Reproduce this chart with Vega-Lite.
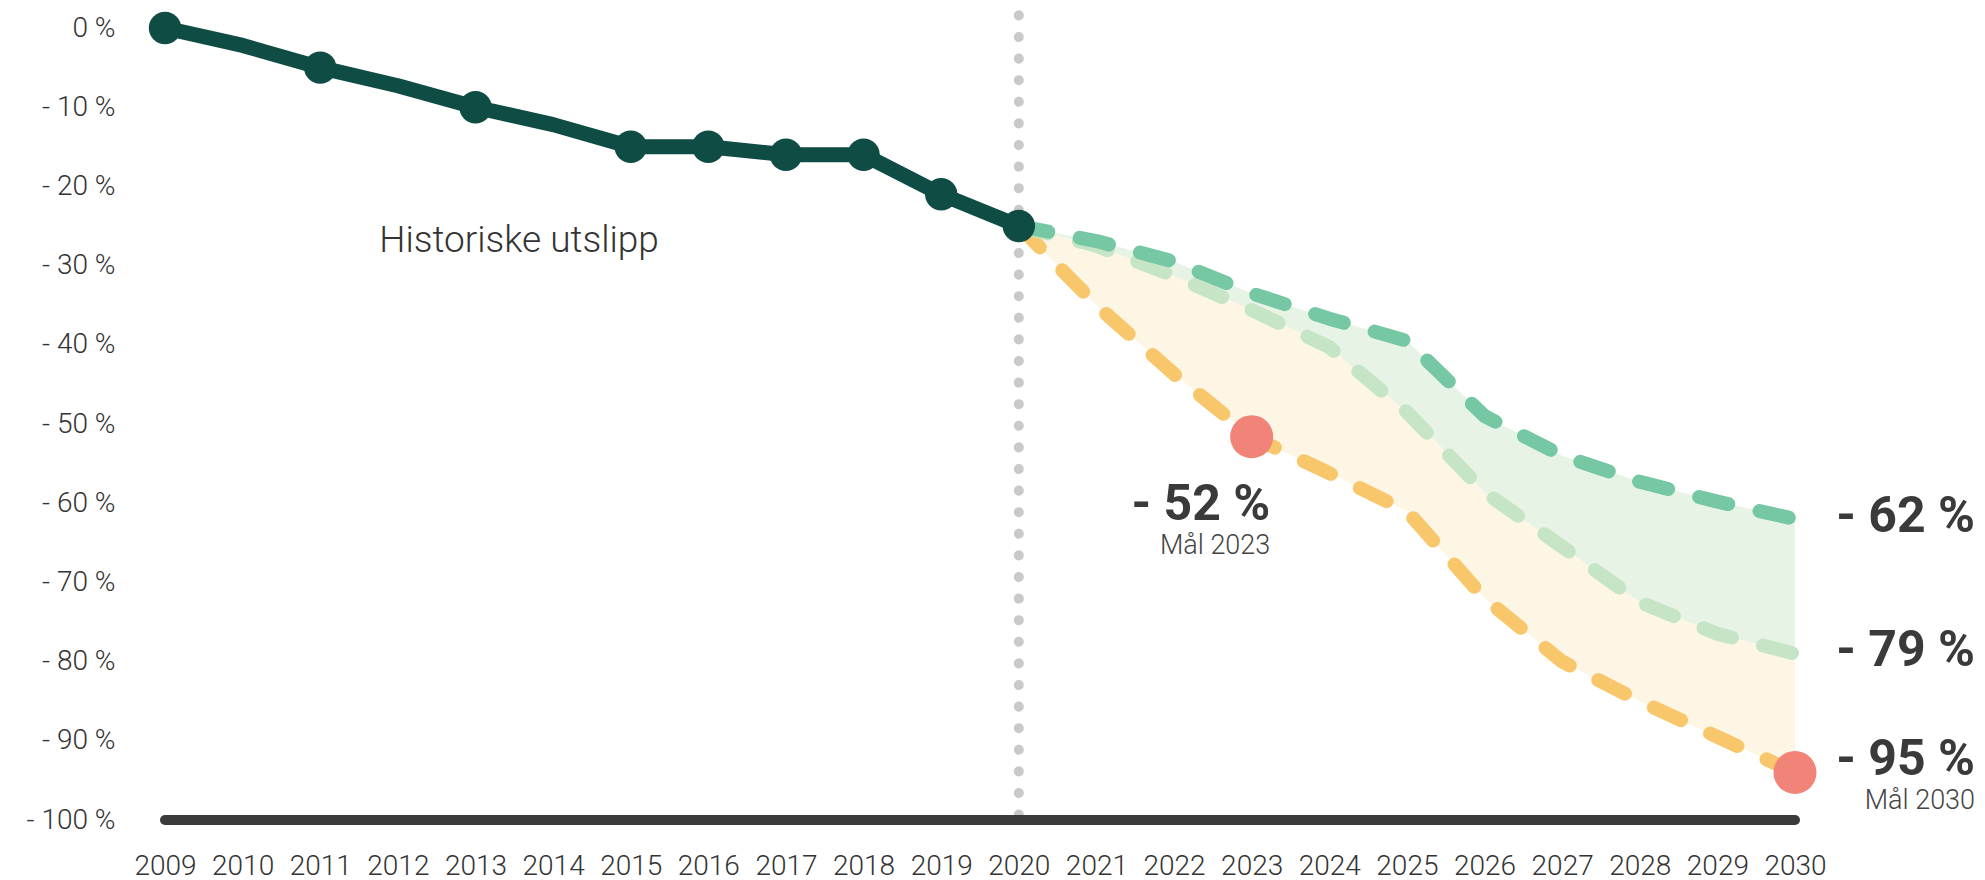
{
  "$schema": "https://vega.github.io/schema/vega-lite/v6.json",
  "width": 1630,
  "height": 792,
  "autosize": {"type": "none"},
  "padding": {"left": 165, "top": 28, "right": 190, "bottom": 60},
  "background": "white",
  "config": {
    "view": {"stroke": null},
    "font": "Roboto",
    "axis": {"grid": false, "domain": false, "ticks": false, "tickSize": 0}
  },
  "datasets": {
    "hist": [
      {"year": 2009, "value": 0},
      {"year": 2010, "value": -2.2},
      {"year": 2011, "value": -5},
      {"year": 2012, "value": -7.3},
      {"year": 2013, "value": -10},
      {"year": 2014, "value": -12.2},
      {"year": 2015, "value": -15},
      {"year": 2016, "value": -15},
      {"year": 2017, "value": -16},
      {"year": 2018, "value": -16},
      {"year": 2019, "value": -21},
      {"year": 2020, "value": -25}
    ],
    "histDots": [
      {"year": 2009, "value": 0},
      {"year": 2011, "value": -5},
      {"year": 2013, "value": -10},
      {"year": 2015, "value": -15},
      {"year": 2016, "value": -15},
      {"year": 2017, "value": -16},
      {"year": 2018, "value": -16},
      {"year": 2019, "value": -21},
      {"year": 2020, "value": -25}
    ],
    "proj": [
      {"year": 2020, "high": -25, "mid": -25, "low": -25},
      {"year": 2021, "high": -26.9, "mid": -27.5, "low": -35},
      {"year": 2022, "high": -29.5, "mid": -31.3, "low": -43.7},
      {"year": 2023, "high": -33.5, "mid": -35.6, "low": -51.6},
      {"year": 2024, "high": -36.7, "mid": -40.3, "low": -56.2},
      {"year": 2025, "high": -39.5, "mid": -48.5, "low": -61},
      {"year": 2026, "high": -49, "mid": -58.6, "low": -72},
      {"year": 2027, "high": -54, "mid": -65.5, "low": -80},
      {"year": 2028, "high": -57.3, "mid": -72.5, "low": -85},
      {"year": 2029, "high": -59.8, "mid": -76.5, "low": -89.5},
      {"year": 2030, "high": -62, "mid": -79, "low": -94}
    ],
    "targets": [
      {"year": 2023, "value": -51.6},
      {"year": 2030, "value": -94}
    ],
    "divider": [{"year": 2020, "top": 1.6, "bottom": -100}],
    "baseline": [{"start": 2009, "end": 2030, "value": -100}],
    "histLabel": [{"label": "Historiske utslipp", "year": 2011.76, "value": -28.25}],
    "bigLabels": [
      {"label": "- 52 %", "year": 2023.24, "value": -62.1},
      {"label": "- 62 %", "year": 2032.32, "value": -63.6},
      {"label": "- 79 %", "year": 2032.32, "value": -80.6},
      {"label": "- 95 %", "year": 2032.32, "value": -94.3}
    ],
    "smallLabels": [
      {"label": "Mål 2023", "year": 2023.24, "value": -66.4},
      {"label": "Mål 2030", "year": 2032.32, "value": -98.6}
    ]
  },
  "encoding": {
    "x": {
      "field": "year",
      "type": "quantitative",
      "title": null,
      "scale": {"domain": [2009, 2030], "nice": false, "zero": false},
      "axis": {
        "values": [2009, 2010, 2011, 2012, 2013, 2014, 2015, 2016, 2017, 2018, 2019, 2020, 2021, 2022, 2023, 2024, 2025, 2026, 2027, 2028, 2029, 2030],
        "format": "d",
        "labelFontSize": 28,
        "labelFontWeight": 300,
        "labelColor": "#333333",
        "labelPadding": 54,
        "labelBaseline": "alphabetic",
        "labelFlush": false,
        "labelOverlap": false,
        "title": null
      }
    },
    "y": {
      "field": "value",
      "type": "quantitative",
      "title": null,
      "scale": {"domain": [-100, 0], "nice": false, "zero": false},
      "axis": {
        "values": [0, -10, -20, -30, -40, -50, -60, -70, -80, -90, -100],
        "labelExpr": "datum.value == 0 ? '0 %' : '- ' + abs(datum.value) + ' %'",
        "labelFontSize": 28,
        "labelFontWeight": 300,
        "labelColor": "#333333",
        "labelPadding": 50,
        "labelBaseline": "middle",
        "labelFlush": false,
        "labelOverlap": false,
        "title": null
      }
    }
  },
  "layer": [
    {
      "data": {"name": "proj"},
      "mark": {"type": "area", "color": "#E7F3E4", "opacity": 1},
      "encoding": {
        "y": {"field": "high", "type": "quantitative", "title": null},
        "y2": {"field": "mid"}
      }
    },
    {
      "data": {"name": "proj"},
      "mark": {"type": "area", "color": "#FDF6E5", "opacity": 1},
      "encoding": {
        "y": {"field": "mid", "type": "quantitative", "title": null},
        "y2": {"field": "low"}
      }
    },
    {
      "data": {"name": "divider"},
      "mark": {"type": "rule", "color": "#C9C9C9", "strokeWidth": 10, "strokeCap": "round", "strokeDash": [0.1, 21.5]},
      "encoding": {
        "y": {"field": "top", "type": "quantitative", "title": null},
        "y2": {"field": "bottom"}
      }
    },
    {
      "data": {"name": "baseline"},
      "mark": {"type": "rule", "color": "#3B3B3B", "strokeWidth": 10, "strokeCap": "round"},
      "encoding": {
        "x": {"field": "start", "type": "quantitative", "title": null},
        "x2": {"field": "end"}
      }
    },
    {
      "data": {"name": "proj"},
      "mark": {"type": "line", "color": "#F9C76B", "strokeWidth": 14, "strokeCap": "round", "strokeJoin": "round", "strokeDash": [30, 32]},
      "encoding": {
        "y": {"field": "low", "type": "quantitative", "title": null}
      }
    },
    {
      "data": {"name": "proj"},
      "mark": {"type": "line", "color": "#C6E5C6", "strokeWidth": 14, "strokeCap": "round", "strokeJoin": "round", "strokeDash": [30, 32]},
      "encoding": {
        "y": {"field": "mid", "type": "quantitative", "title": null}
      }
    },
    {
      "data": {"name": "proj"},
      "mark": {"type": "line", "color": "#75C8A3", "strokeWidth": 14, "strokeCap": "round", "strokeJoin": "round", "strokeDash": [30, 32]},
      "encoding": {
        "y": {"field": "high", "type": "quantitative", "title": null}
      }
    },
    {
      "data": {"name": "hist"},
      "mark": {"type": "line", "color": "#0E4C44", "strokeWidth": 15, "strokeCap": "round", "strokeJoin": "round"},
      "encoding": {}
    },
    {
      "data": {"name": "histDots"},
      "mark": {"type": "point", "filled": true, "opacity": 1, "color": "#0E4C44", "size": 1050},
      "encoding": {}
    },
    {
      "data": {"name": "targets"},
      "mark": {"type": "point", "filled": true, "opacity": 1, "color": "#F28379", "size": 1850},
      "encoding": {}
    },
    {
      "data": {"name": "histLabel"},
      "mark": {"type": "text", "align": "left", "baseline": "alphabetic", "fontSize": 37, "fontWeight": 300, "color": "#333333"},
      "encoding": {"text": {"field": "label"}}
    },
    {
      "data": {"name": "bigLabels"},
      "mark": {"type": "text", "align": "right", "baseline": "alphabetic", "fontSize": 50, "fontWeight": "bold", "color": "#3a3a3a"},
      "encoding": {"text": {"field": "label"}}
    },
    {
      "data": {"name": "smallLabels"},
      "mark": {"type": "text", "align": "right", "baseline": "alphabetic", "fontSize": 27, "fontWeight": 300, "color": "#444444"},
      "encoding": {"text": {"field": "label"}}
    }
  ]
}
